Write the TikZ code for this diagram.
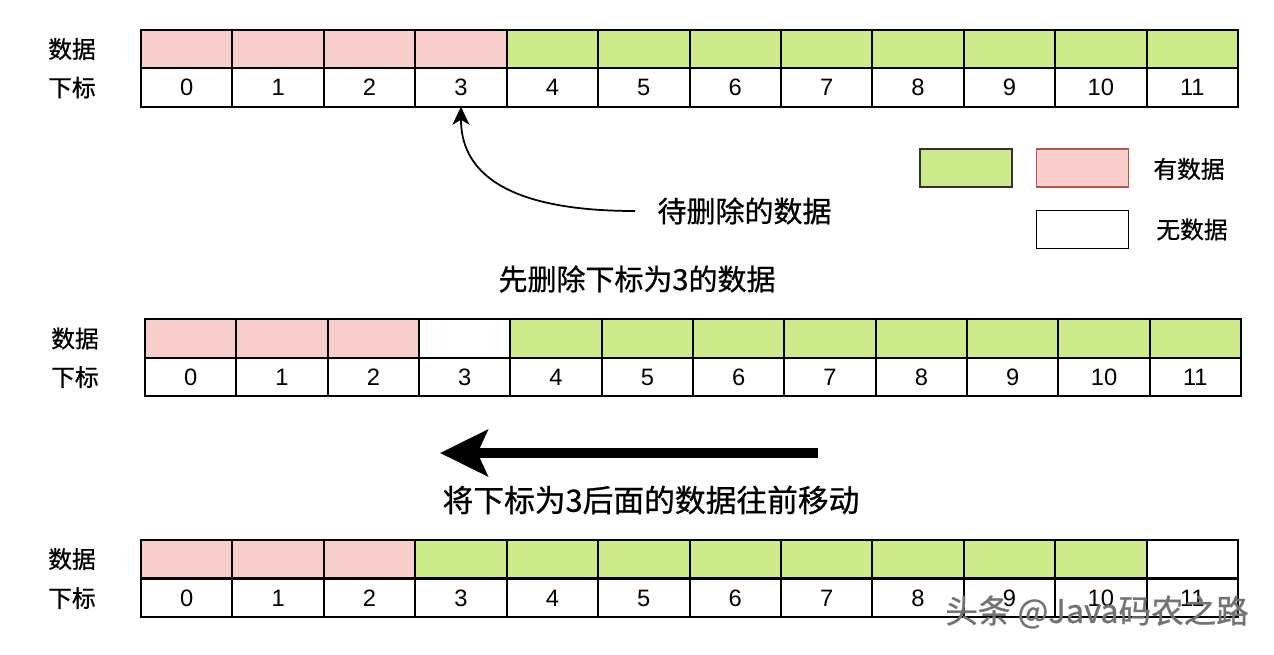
\documentclass[tikz,border=0pt]{standalone}
\usepackage{fontspec}
\setmainfont{Liberation Sans}
\newfontfamily\cjk[FakeBold=0.8]{Noto Sans CJK SC}
\usepackage{tikz}
\usetikzlibrary{arrows.meta, positioning}
\usepackage{xcolor}
\definecolor{hasdata}{HTML}{F8CECC}
\definecolor{movedata}{HTML}{CDEB8B}
\definecolor{legendred}{HTML}{B85450}

\begin{document}
\begin{tikzpicture}[x=0.02cm, y=-0.02cm,
        cell/.style={rectangle, draw=black, line width=1.1pt, minimum width=1.828cm, minimum height=0.77cm, inner sep=0pt, outer sep=0pt},
        redcell/.style={cell, fill=hasdata},
        greencell/.style={cell, fill=movedata},
        emptycell/.style={cell, fill=white},
        idxcell/.style={cell, fill=white, font=\fontsize{13.5}{15}\selectfont},
        rowname/.style={font=\cjk\fontsize{13.5}{16}\selectfont, inner sep=0pt},
        legendbox/.style={rectangle, line width=1.1pt, minimum width=1.84cm, minimum height=0.76cm, inner sep=0pt},
        note/.style={font=\cjk\fontsize{16.5}{19}\selectfont, inner sep=0pt},
        pointer/.style={-{Stealth[length=3.6mm, width=3.4mm, inset=1mm]}, line width=1pt},
        bigarrow/.style={-{Stealth[length=0.95cm, width=0.92cm, inset=0.2cm]}, line width=5.5pt}
    ]
    \useasboundingbox (0,0) rectangle (1274,654);

    % 第一行: 删除前
    \node[rowname] (N1) at (72,49) {数据};
    \node[rowname] (K1) at (72,87.5) {下标};
    \foreach \i in {0,...,3}
        \node[redcell] (D1-\i) at ({186.7+91.42*\i},49) {};
    \foreach \i in {4,...,11}
        \node[greencell] (D1-\i) at ({186.7+91.42*\i},49) {};
    \foreach \i in {0,...,11}
        \node[idxcell] (I1-\i) at ({186.7+91.42*\i},87.5) {\i};

    % 图例
    \node[legendbox, fill=movedata, draw=black!80] (LG) at (966,168) {};
    \node[legendbox, fill=hasdata, draw=legendred] (LR) at (1082.5,168) {};
    \node[legendbox, fill=white, draw=black] (LW) at (1082.5,229.5) {};
    \node[rowname] (LRtxt) at (1189,169) {有数据};
    \node[rowname] (LWtxt) at (1192,229.5) {无数据};

    % 待删除的数据
    \node[note, inner xsep=0.44cm] (Del) at (744.5,211) {待删除的数据};
    \draw[pointer] (Del.west) .. controls +(-135,0) and +(0,62) .. (I1-3.south);
    \node[note] (Step1) at (637,279) {先删除下标为3的数据};

    % 第二行: 删除后
    \node[rowname] (N2) at (75,338.5) {数据};
    \node[rowname] (K2) at (75,377) {下标};
    \foreach \i in {0,...,2}
        \node[redcell] (D2-\i) at ({190.7+91.33*\i},338.5) {};
    \node[emptycell] (D2-3) at ({190.7+91.33*3},338.5) {};
    \foreach \i in {4,...,11}
        \node[greencell] (D2-\i) at ({190.7+91.33*\i},338.5) {};
    \foreach \i in {0,...,11}
        \node[idxcell] (I2-\i) at ({190.7+91.33*\i},377) {\i};

    % 往前移动
    \coordinate (MvTail) at (818,453);
    \coordinate (MvHead) at (440,453);
    \draw[bigarrow] (MvTail) -- (MvHead);
    \node[note, font=\cjk\fontsize{17.5}{20}\selectfont] (Step2) at (651,500) {将下标为3后面的数据往前移动};

    % 第三行: 移动后
    \node[rowname] (N3) at (72,559) {数据};
    \node[rowname] (K3) at (72,598) {下标};
    \foreach \i in {0,...,2}
        \node[redcell] (D3-\i) at ({186.7+91.42*\i},559) {};
    \foreach \i in {3,...,10}
        \node[greencell] (D3-\i) at ({186.7+91.42*\i},559) {};
    \node[emptycell] (D3-11) at ({186.7+91.42*11},559) {};
    \foreach \i in {0,...,11}
        \node[idxcell] (I3-\i) at ({186.7+91.42*\i},598) {\i};

    \node[font=\cjk\fontsize{18.5}{20}\selectfont, text=black!55, inner sep=0pt] (WM) at (1097,612) {头条 @Java码农之路};
\end{tikzpicture}
\end{document}
